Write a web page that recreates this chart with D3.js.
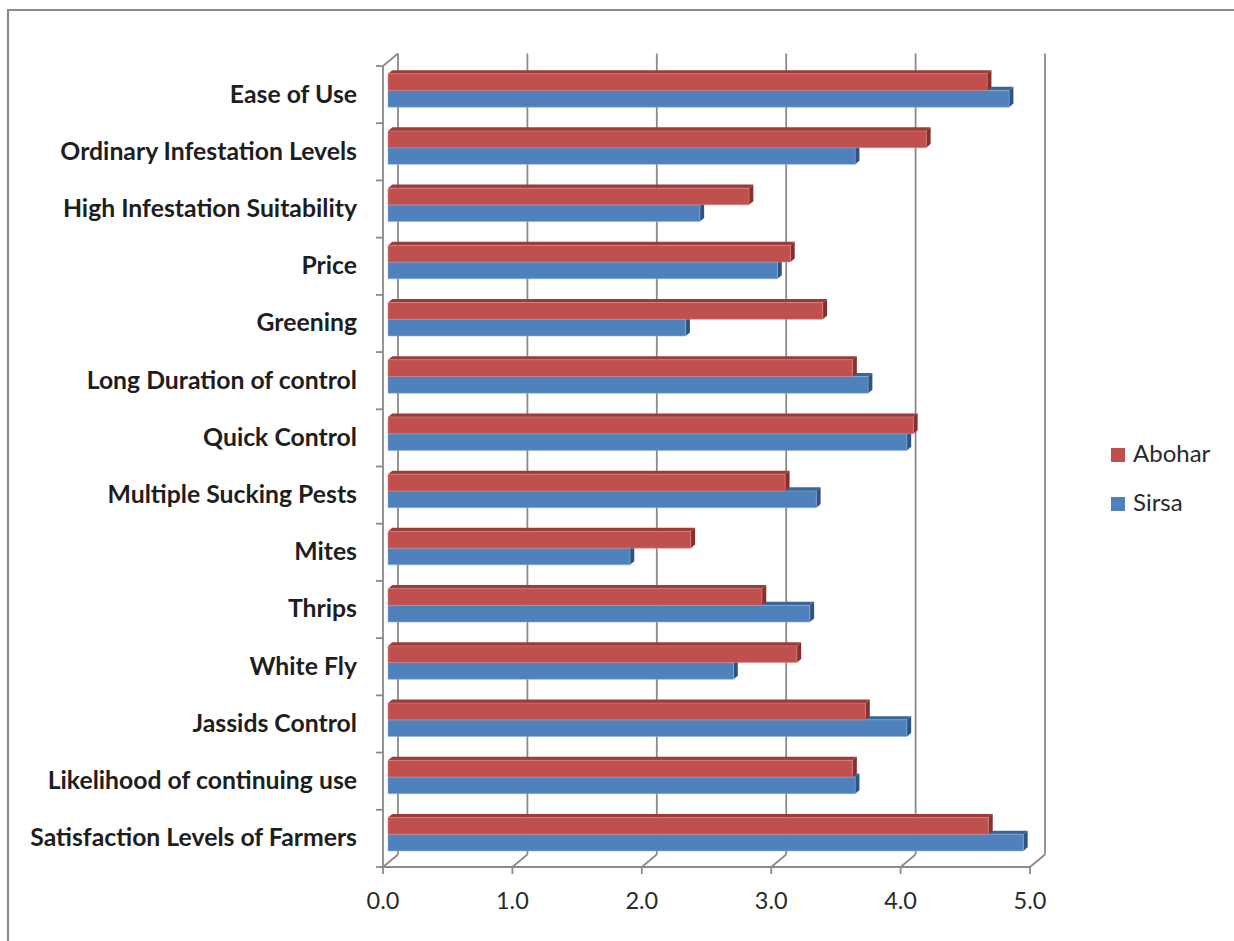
<!DOCTYPE html>
<html>
<head>
<meta charset="utf-8">
<script src="https://cdn.jsdelivr.net/npm/d3@7"></script>
<style>
  body { margin: 0; background: #ffffff; }
  svg { display: block; }
</style>
</head>
<body>
<svg id="chart" width="1234" height="941"></svg>
<script>
// Survey attributes, top to bottom
const categories = [
  "Ease of Use",
  "Ordinary Infestation Levels",
  "High Infestation Suitability",
  "Price",
  "Greening",
  "Long Duration of control",
  "Quick Control",
  "Multiple Sucking Pests",
  "Mites",
  "Thrips",
  "White Fly",
  "Jassids Control",
  "Likelihood of continuing use",
  "Satisfaction Levels of Farmers"
];

// Mean scores per district
const abohar = [4.63, 4.16, 2.79, 3.11, 3.36, 3.59, 4.06, 3.07, 2.34, 2.89, 3.16, 3.69, 3.59, 4.64];
const sirsa  = [4.80, 3.61, 2.41, 3.01, 2.30, 3.71, 4.01, 3.31, 1.87, 3.26, 2.67, 4.01, 3.61, 4.91];

const seriesNames = ["Abohar", "Sirsa"];
const xTicks = [0, 1, 2, 3, 4, 5];
const xTickLabels = ["0.0", "1.0", "2.0", "3.0", "4.0", "5.0"];

const series = [
  { name: "Abohar", values: abohar, front: "#c0504d", top: "#9c3c3a", side: "#8a2e2c", edge: "#d98a88" },
  { name: "Sirsa",  values: sirsa,  front: "#4f81bd", top: "#3a6599", side: "#2e5485", edge: "#8db0da" }
];

const svg = d3.select("#chart");
const FONT = "Lato, 'Open Sans', 'DejaVu Sans', sans-serif";
const GRID = "#8a8a8a";

// Front-plane scales
const x = d3.scaleLinear().domain([0, 5]).range([383, 1030]);
const y = d3.scaleBand().domain(categories).range([66, 867])
  .paddingInner(0.416).paddingOuter(0.208);
const ySub = d3.scaleBand().domain(seriesNames).range([0, y.bandwidth()]);

// Oblique projection for the depth axis (0 = front, 1 = back wall)
const DX = 15, DY = -12.5;
const proj = (px, py, d) => [px + DX * d, py + DY * d];
const path = pts => "M" + pts.map(p => p[0].toFixed(2) + "," + p[1].toFixed(2)).join("L") + "Z";
const line = (a, b) => "M" + a[0] + "," + a[1] + "L" + b[0] + "," + b[1];

// Outer frame
svg.append("path").attr("d", "M8,941L8,10L1234,10")
  .attr("fill", "none").attr("stroke", "#8c8c8c").attr("stroke-width", 2.2);

const yTop = y.range()[0], yBot = y.range()[1];
const grid = svg.append("g").attr("fill", "none").attr("stroke", GRID).attr("stroke-width", 1.8);

// Back wall gridlines
xTicks.forEach(v => {
  grid.append("path").attr("d", line(proj(x(v), yTop, 1), proj(x(v), yBot, 1)));
});
// Floor: front edge, depth diagonals and tick marks
grid.append("path").attr("d", line([x(0) - 2, yBot], [x(5), yBot]));
xTicks.forEach(v => {
  grid.append("path").attr("d", line([x(v), yBot], proj(x(v), yBot, 1)));
  grid.append("path").attr("d", line([x(v), yBot], [x(v), yBot + 7]));
});
// Side wall front edge with category ticks
grid.append("path").attr("d", line([x(0), yTop], [x(0), yBot]));
grid.append("path").attr("d", line([x(0), yTop], proj(x(0), yTop, 1)));
const step = y.step();
d3.range(categories.length + 1).forEach(i => {
  const ty = yTop + i * step;
  grid.append("path").attr("d", line([x(0) - 7, ty], [x(0), ty]));
});

// Bars: front face at depth d1, back at d2
const d1 = 0.333, d2 = 0.62;
const barsG = svg.append("g");
categories.forEach((c, i) => {
  // draw lower series first so the upper bar covers its top face
  [series[1], series[0]].forEach(s => {
    const v = s.values[i];
    const y0 = y(c) + ySub(s.name);
    const y1 = y0 + ySub.bandwidth();
    const xa = x(0), xb = x(v);
    const f = [proj(xa, y0, d1), proj(xb, y0, d1), proj(xb, y1, d1), proj(xa, y1, d1)];
    const t = [proj(xa, y0, d1), proj(xb, y0, d1), proj(xb, y0, d2), proj(xa, y0, d2)];
    const sd = [proj(xb, y0, d1), proj(xb, y0, d2), proj(xb, y1, d2), proj(xb, y1, d1)];
    barsG.append("path").attr("d", path(t)).attr("fill", s.top);
    barsG.append("path").attr("d", path(sd)).attr("fill", s.side);
    barsG.append("path").attr("d", path(f)).attr("fill", s.front)
      .attr("stroke", s.edge).attr("stroke-width", 0.8).attr("stroke-opacity", 0.7);
  });
});

// Category labels, sized so the longest fits the label column
const labelG = svg.append("g").attr("font-family", FONT).attr("font-weight", "bold")
  .attr("fill", "#1e1e1e").attr("text-anchor", "end");
const probe = labelG.append("text").attr("font-size", 20).text("Satisfaction Levels of Farmers");
const labelSize = 20 * 327 / probe.node().getComputedTextLength();
probe.remove();
labelG.attr("font-size", labelSize.toFixed(2));
categories.forEach(c => {
  labelG.append("text")
    .attr("x", 357)
    .attr("y", y(c) + y.bandwidth() / 2 - 1)
    .attr("dy", "0.36em")
    .text(c);
});

// Value axis tick labels
const tickG = svg.append("g").attr("font-family", FONT).attr("font-size", 23.5)
  .attr("fill", "#2a2a2a").attr("text-anchor", "middle");
xTicks.forEach((v, i) => {
  tickG.append("text").attr("x", x(v)).attr("y", 909).text(xTickLabels[i]);
});

// Legend
const legend = svg.append("g").attr("font-family", FONT).attr("font-size", 24).attr("fill", "#2a2a2a");
series.forEach((s, i) => {
  const ly = 448 + i * 49;
  legend.append("rect").attr("x", 1111).attr("y", ly).attr("width", 14).attr("height", 14).attr("fill", s.front);
  legend.append("text").attr("x", 1133).attr("y", ly + 14).text(s.name);
});
</script>
</body>
</html>
